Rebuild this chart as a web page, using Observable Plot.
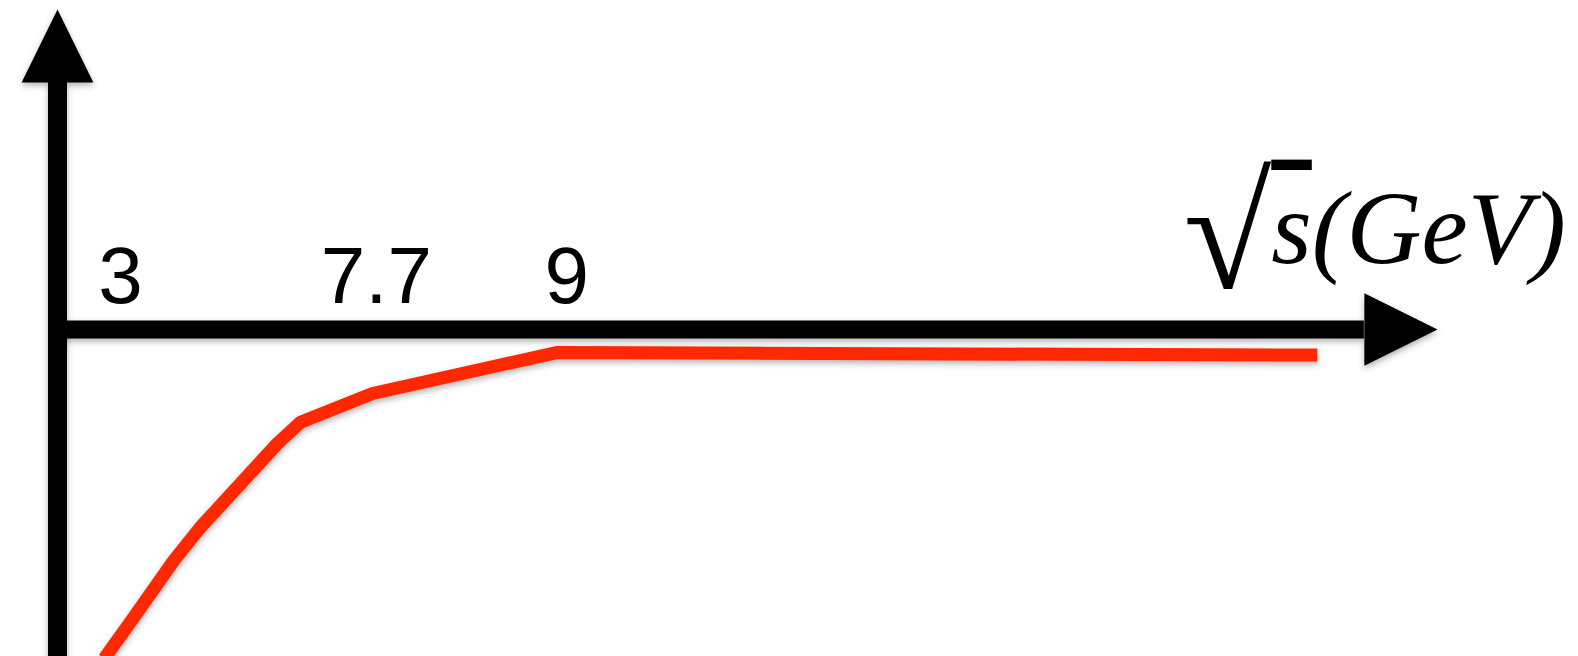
<!DOCTYPE html>
<html>
<head>
<meta charset="utf-8">
<script src="https://cdn.jsdelivr.net/npm/d3@7"></script>
<script src="https://cdn.jsdelivr.net/npm/@observablehq/plot@0.6"></script>
<style>
  html, body { margin: 0; padding: 0; background: #fff; }
  .shadow { filter: drop-shadow(0px 3px 3px rgba(0,0,0,0.30)); }
</style>
</head>
<body>
<div id="chart"></div>
<script>
// Schematic position along the √s axis (axis origin = 0, arrow tip = 100)
const curveX = [3.39, 5.53, 8.43, 10.36, 13.26, 15.92, 17.61, 22.83, 36.16, 91.28];
// Schematic curve value (horizontal axis at 0)
const curveY = [-10.28, -8.99, -7.22, -6.18, -4.82, -3.57, -2.90, -2.00, -0.72, -0.80];

// Tick labels of the energy axis
const tickLabels = ["3", "7.7", "9"];
const tickX = [4.57, 23.1, 36.9];
const tickY = 0.84;

// Axis title
const axisTitle = "√s(GeV)";
const axisTitleX = 109.3;
const axisTitleY = 2.09;

// Axis extents (schematic units)
const xAxisEnd = 100, xShaftEnd = 94.7, xHeadHalf = 1.13;
const yAxisTop = 10, yAxisBottom = -10.3, yShaftEnd = 7.72, yHeadHalf = 2.6;

const curve = curveX.map((x, i) => ({x, y: curveY[i]}));
const ticks = tickLabels.map((t, i) => ({x: tickX[i], label: t}));
const xHead = [
  {x: xShaftEnd, y: xHeadHalf},
  {x: xAxisEnd, y: 0},
  {x: xShaftEnd, y: -xHeadHalf},
  {x: xShaftEnd, y: xHeadHalf}
];
const yHead = [
  {x: -yHeadHalf, y: yShaftEnd},
  {x: 0, y: yAxisTop},
  {x: yHeadHalf, y: yShaftEnd},
  {x: -yHeadHalf, y: yShaftEnd}
];

const serif = "'Liberation Serif', 'Times New Roman', Times, serif";

const plot = Plot.plot({
  width: 1578,
  height: 656,
  marginLeft: 57,
  marginRight: 141,
  marginTop: 9,
  marginBottom: 7,
  style: {background: "white"},
  x: {domain: [0, 100], axis: null},
  y: {domain: [-10, 10], axis: null},
  marks: [
    Plot.line(curve, {x: "x", y: "y", stroke: "#FF2800", strokeWidth: 13, strokeLinejoin: "miter", strokeLinecap: "butt", className: "shadow"}),
    Plot.ruleX([0], {y1: yAxisBottom, y2: yShaftEnd, stroke: "black", strokeWidth: 19, className: "shadow"}),
    Plot.ruleY([0], {x1: 0, x2: xShaftEnd, stroke: "black", strokeWidth: 18, className: "shadow"}),
    Plot.line(xHead, {x: "x", y: "y", fill: "black", stroke: "none", className: "shadow"}),
    Plot.line(yHead, {x: "x", y: "y", fill: "black", stroke: "none", className: "shadow"}),
    Plot.text(ticks, {x: "x", y: tickY, text: "label", fontSize: 80, fontFamily: "'Liberation Sans', Arial, Helvetica, sans-serif", fill: "black", lineAnchor: "bottom", textAnchor: "middle"}),
    Plot.text([axisTitle], {x: axisTitleX, y: axisTitleY, text: d => d, fontSize: 104, fontFamily: serif, fill: "black", lineAnchor: "bottom", textAnchor: "end", className: "axis-title"})
  ]
});

document.getElementById("chart").appendChild(plot);

// Typeset the title: large upright radical, overlined italic s, italic (GeV)
d3.select(plot).selectAll(".axis-title text").each(function() {
  const t = d3.select(this);
  const s = t.text();
  t.text("");
  t.append("tspan").attr("font-style", "normal").attr("font-size", 160).attr("dy", 25).text(s.slice(0, 1));
  t.append("tspan").attr("font-style", "italic").attr("dy", -25)
    .attr("text-decoration", "overline")
    .style("text-decoration-thickness", "5px")
    .text(s.slice(1, 2));
  t.append("tspan").attr("font-style", "italic").text(s.slice(2));
});
</script>
</body>
</html>
